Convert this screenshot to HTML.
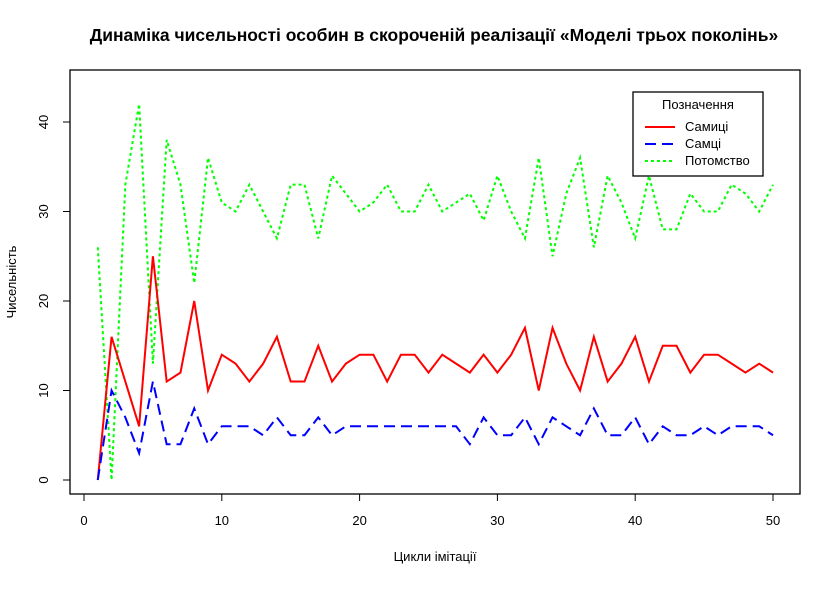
<!DOCTYPE html>
<html><head><meta charset="utf-8"><style>
body{margin:0;background:#fff}
svg text{font-family:"Liberation Sans",sans-serif}
</style></head><body>
<svg id="chart" width="836" height="584" xmlns="http://www.w3.org/2000/svg">
<text x="434" y="41" text-anchor="middle" font-size="17.5" font-weight="bold">Динаміка чисельності особин в скороченій реалізації «Моделі трьох поколінь»</text>
<rect x="70" y="70" width="730" height="424" fill="none" stroke="#000" stroke-width="1.3"/>
<g id="axes"></g>
<g id="series"></g>
<text x="435" y="561" text-anchor="middle" font-size="13">Цикли імітації</text>
<text transform="translate(16,282) rotate(-90)" text-anchor="middle" font-size="13">Чисельність</text>
<g>
<rect x="633" y="92" width="130" height="84" fill="#fff" stroke="#000" stroke-width="1.3"/>
<text x="698" y="109" text-anchor="middle" font-size="13">Позначення</text>
<line x1="645" y1="127" x2="675" y2="127" stroke="#f00" stroke-width="2"/>
<text x="685" y="131" font-size="13">Самиці</text>
<line x1="645" y1="144" x2="675" y2="144" stroke="#00f" stroke-width="2" stroke-dasharray="11,6"/>
<text x="685" y="148" font-size="13">Самці</text>
<line x1="645" y1="161" x2="675" y2="161" stroke="#0f0" stroke-width="2" stroke-dasharray="3,3"/>
<text x="685" y="165" font-size="13">Потомство</text>
</g>
</svg>
<script>
const xTicks=[0,10,20,30,40,50];
const yTicks=[0,10,20,30,40];
const females=[0,16,11,6,25,11,12,20,10,14,13,11,13,16,11,11,15,11,13,14,14,11,14,14,12,14,13,12,14,12,14,17,10,17,13,10,16,11,13,16,11,15,15,12,14,14,13,12,13,12];
const males=[0,10,7,3,11,4,4,8,4,6,6,6,5,7,5,5,7,5,6,6,6,6,6,6,6,6,6,4,7,5,5,7,4,7,6,5,8,5,5,7,4,6,5,5,6,5,6,6,6,5];
const offspring=[26,0,33,42,13,38,33,22,36,31,30,33,30,27,33,33,27,34,32,30,31,33,30,30,33,30,31,32,29,34,30,27,36,25,32,36,26,34,31,27,34,28,28,32,30,30,33,32,30,33];
const NS="http://www.w3.org/2000/svg";
const xs=v=>84+v*(773-84)/50;
const ys=v=>480-v*(480-122)/40;
const axes=document.getElementById('axes');
function mk(t,a,p){const e=document.createElementNS(NS,t);for(const k in a)e.setAttribute(k,a[k]);p.appendChild(e);return e;}
mk('line',{x1:xs(0),x2:xs(50),y1:494,y2:494,stroke:'#000'},axes);
xTicks.forEach(t=>{
  mk('line',{x1:xs(t),x2:xs(t),y1:494,y2:501,stroke:'#000'},axes);
  const tx=mk('text',{x:xs(t),y:525,'text-anchor':'middle','font-size':13},axes);
  
  
  tx.textContent=t;
});
mk('line',{x1:70,x2:70,y1:ys(0),y2:ys(40),stroke:'#000'},axes);
yTicks.forEach(t=>{
  mk('line',{x1:63,x2:70,y1:ys(t),y2:ys(t),stroke:'#000'},axes);
  const tx=mk('text',{x:0,y:0,transform:`translate(48,${ys(t)}) rotate(-90)`,'text-anchor':'middle','font-size':13},axes);
  
  
  tx.textContent=t;
});
const sg=document.getElementById('series');
function line(data,color,dash,name){
  const pts=data.map((v,i)=>xs(i+1)+','+ys(v)).join(' ');
  const p=mk('polyline',{points:pts,fill:'none',stroke:color,'stroke-width':2,'stroke-dasharray':dash},sg);
  
  
}
line(offspring,'#0f0','3,3','offspring-line');
line(females,'#f00','none','females-line');
line(males,'#00f','11,6','males-line');
</script>
</body></html>
